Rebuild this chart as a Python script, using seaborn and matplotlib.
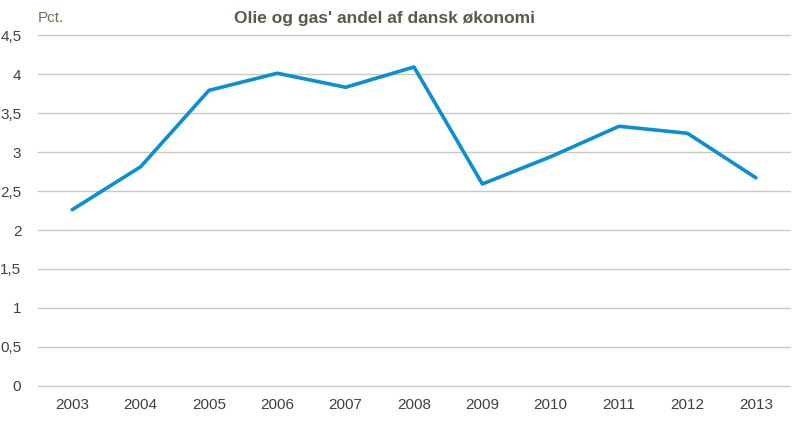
import matplotlib
matplotlib.use("Agg")
import matplotlib.pyplot as plt
import seaborn as sns
import pandas as pd

# data
years = ["2003", "2004", "2005", "2006", "2007", "2008", "2009", "2010", "2011", "2012", "2013"]
share = [2.26, 2.81, 3.79, 4.01, 3.83, 4.09, 2.59, 2.94, 3.33, 3.24, 2.67]
yticks = [0, 0.5, 1, 1.5, 2, 2.5, 3, 3.5, 4, 4.5]
ytick_labels = ["0", "0,5", "1", "1,5", "2", "2,5", "3", "3,5", "4", "4,5"]

sns.set_theme(style="white")
plt.rcParams["font.family"] = ["Liberation Sans Narrow", "Liberation Sans", "DejaVu Sans"]

df = pd.DataFrame({"year": years, "share": share})

fig = plt.figure(figsize=(8, 4.25), dpi=100)
ax = fig.add_axes([0.0475, 0.0918, 0.94, 0.8258])

sns.lineplot(data=df, x="year", y="share", ax=ax, color="#0a8fd2", linewidth=2.6, sort=False)

ax.set_xlim(-0.5, len(years) - 0.5)
ax.set_ylim(0, 4.5)
ax.set_yticks(yticks)
ax.set_yticklabels(ytick_labels)
for y in yticks:
    ax.axhline(y, color="#c9c9bd", linewidth=1, zorder=0, clip_on=False)

for s in ax.spines.values():
    s.set_visible(False)
ax.tick_params(axis="both", length=0, labelsize=11, colors="#404040")
ax.tick_params(axis="y", pad=12)
ax.tick_params(axis="x", pad=9)
ax.set_xlabel("")
ax.set_ylabel("")

fig.text(0.047, 0.975, "Pct.", fontsize=11, color="#7d6d50", va="top", ha="left")
fig.text(0.48, 0.975, "Olie og gas' andel af dansk økonomi", fontsize=12.5, fontweight="bold",
         color="#5a5a48", va="top", ha="center")

fig.savefig("out.png", dpi=100)
